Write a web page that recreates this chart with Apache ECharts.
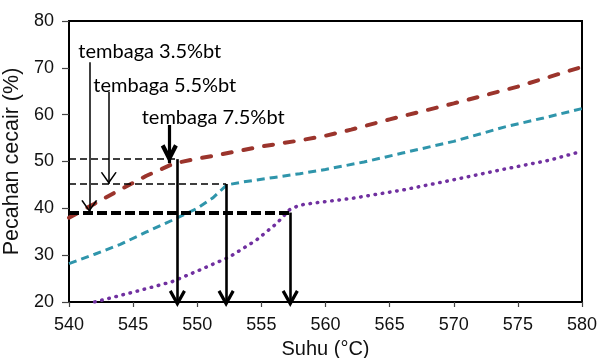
<!DOCTYPE html>
<html><head><meta charset="utf-8">
<script src="https://cdn.jsdelivr.net/npm/echarts@6/dist/echarts.min.js"></script>
<style>html,body{margin:0;padding:0;background:#fff}#c{width:600px;height:358px}</style>
</head><body><div id="c"></div>
<script>
// ---- data ----
const xTicks = [540, 545, 550, 555, 560, 565, 570, 575, 580];
const yTicks = [20, 30, 40, 50, 60, 70, 80];

const cu35X = [540, 542, 544, 546, 548.2, 550, 552, 555, 558, 560, 562, 565, 570, 575, 580];
const cu35Y = [38.0, 41.0, 44.0, 46.9, 49.6, 50.6, 51.6, 53.2, 54.5, 55.5, 56.8, 59.0, 62.4, 66.0, 70.2];

const cu55X = [540, 542, 544, 546, 548, 550, 551.2, 552.3, 553.5, 556, 558, 560, 563, 566, 570, 574, 577, 580];
const cu55Y = [28.2, 30.2, 32.3, 34.9, 37.4, 40.0, 42.2, 45.0, 45.6, 46.6, 47.4, 48.3, 49.9, 51.8, 54.3, 57.4, 59.3, 61.3];

const cu75X = [542, 545, 548, 550, 552.5, 554.6, 556.2, 557.2, 558, 559.3, 562, 566, 570, 574, 577.5, 580];
const cu75Y = [20.0, 22.1, 24.3, 26.6, 29.6, 33.2, 36.8, 39.7, 40.7, 41.2, 42.1, 43.9, 46.1, 48.4, 50.3, 52.2];

// liquidus guide lines (level, drop temperature)
const guideLevel = [50.5, 45.2, 39.1];
const guideDropX = [548.45, 552.25, 557.25];

// annotation texts and their pointer arrows
const noteText = ['tembaga 3.5%bt', 'tembaga 5.5%bt', 'tembaga 7.5%bt'];
const noteX = [540.73, 541.9, 545.67];
const noteY = [73.4, 66.3, 59.4];
const pointerX = [541.58, 543.1, 547.82];
const pointerTop = [71.2, 64.9, 57.8];
const pointerTip = [39.2, 45.2, 49.65];

// ---- helpers ----
function zip(xs, ys) { return xs.map((x, i) => [x, ys[i]]); }
function chevron(t) {
  const a = 0.868 * t, b = 0.496 * t, c = 2.015 * t;
  return 'path://M8,0 L16,14 L' + (16 - a) + ',' + (14 + b) + ' L8,' + c +
         ' L' + a + ',' + (14 + b) + ' L0,14 Z';
}
const FONT = '"Liberation Sans", Arial, sans-serif';

const markLines = [];
// horizontal guides
guideLevel.forEach((lv, i) => {
  const thick = i === 2;
  markLines.push([
    { coord: [xTicks[0], lv], symbol: 'none',
      lineStyle: { color: '#000', width: thick ? 4 : 1.5, type: thick ? [10, 4] : [7, 4] } },
    { coord: [guideDropX[i], lv], symbol: 'none' }
  ]);
});
// vertical drops to the axis
guideLevel.forEach((lv, i) => {
  markLines.push([
    { coord: [guideDropX[i], lv], symbol: 'none',
      lineStyle: { color: '#000', width: 2.6, type: 'solid' } },
    { coord: [guideDropX[i], yTicks[0]], symbol: chevron(3), symbolSize: [17, 17],
      symbolOffset: [0, 3.5] }
  ]);
});
// pointer arrows from the notes
pointerX.forEach((px, i) => {
  const thick = i === 2;
  const w = thick ? 17 : 16, h = thick ? 19 : 12;
  markLines.push([
    { coord: [px, pointerTop[i]], symbol: 'none',
      lineStyle: { color: '#000', width: thick ? 3.2 : 1.5, type: 'solid' } },
    { coord: [px, pointerTip[i]], symbol: chevron(thick ? 4 : 1.6), symbolSize: [w, h],
      symbolOffset: [0, h / 2] }
  ]);
});

const notePoints = noteText.map((t, i) => ({
  coord: [noteX[i], noteY[i]], value: t,
  symbol: 'circle', symbolSize: 0,
  label: { show: true, position: 'right', distance: 0, formatter: t,
           fontFamily: 'Lato, "Open Sans", sans-serif', fontSize: 20, color: '#000' }
}));

const chart = echarts.init(document.getElementById('c'), null, { renderer: 'canvas' });
chart.setOption({
  animation: false,
  backgroundColor: '#fff',
  grid: { left: 69, right: 18, top: 21, bottom: 56, show: true, borderColor: '#000',
          borderWidth: 2, backgroundColor: 'transparent', containLabel: false, outerBoundsMode: 'none' },
  xAxis: {
    type: 'value', min: xTicks[0], max: xTicks[xTicks.length - 1], interval: xTicks[1] - xTicks[0],
    name: 'Suhu (°C)', nameLocation: 'middle', nameGap: 37,
    nameTextStyle: { fontFamily: FONT, fontSize: 20, color: '#111' },
    axisLine: { show: true, lineStyle: { color: '#000', width: 2 } },
    axisTick: { show: true, length: 5, lineStyle: { color: '#444', width: 1.2 } },
    axisLabel: { fontFamily: FONT, fontSize: 18, color: '#111', margin: 14 },
    splitLine: { show: false }
  },
  yAxis: {
    type: 'value', min: yTicks[0], max: yTicks[yTicks.length - 1], interval: yTicks[1] - yTicks[0],
    name: 'Pecahan cecair (%)', nameLocation: 'middle', nameGap: 39,
    nameTextStyle: { fontFamily: FONT, fontSize: 21.5, color: '#111' },
    axisLine: { show: true, lineStyle: { color: '#000', width: 2 } },
    axisTick: { show: true, length: 7, lineStyle: { color: '#444', width: 1.2 } },
    axisLabel: { fontFamily: FONT, fontSize: 18, color: '#111', margin: 15 },
    splitLine: { show: false }
  },
  series: [
    { name: 'tembaga 3.5%bt', type: 'line', data: zip(cu35X, cu35Y), showSymbol: false, silent: true,
      lineStyle: { color: '#9B342C', width: 4, type: [9, 12], cap: 'round' } },
    { name: 'tembaga 5.5%bt', type: 'line', data: zip(cu55X, cu55Y), showSymbol: false, silent: true,
      lineStyle: { color: '#2F95AB', width: 3, type: [8, 5] } },
    { name: 'tembaga 7.5%bt', type: 'line', data: zip(cu75X, cu75Y), showSymbol: false, silent: true,
      lineStyle: { color: '#7030A0', width: 3.5, type: [0.5, 6.8], cap: 'round' } },
    { name: 'annotations', type: 'line', data: [], clip: false, silent: true,
      markLine: { silent: true, animation: false, label: { show: false },
                  emphasis: { disabled: true }, lineStyle: { color: '#000' },
                  itemStyle: { color: '#000' }, data: markLines },
      markPoint: { silent: true, animation: false, data: notePoints } }
  ]
});
</script>
</body></html>
